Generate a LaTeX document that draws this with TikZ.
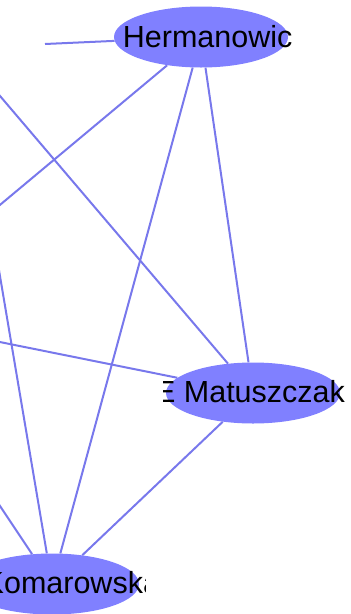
\documentclass[tikz,border=0pt]{standalone}
\usepackage{fontspec}
\setmainfont{Liberation Sans}
\usetikzlibrary{shapes.geometric}
\definecolor{nodefill}{HTML}{8080FF}
\definecolor{edgecol}{HTML}{7878EC}
\begin{document}
\begin{tikzpicture}[x=1pt,y=-1pt,
  person/.style={ellipse, fill=nodefill, draw=none, minimum width=174pt, minimum height=61pt, inner sep=0pt},
  edge/.style={draw=edgecol, line width=2pt},
  lbl/.style={inner sep=0pt, anchor=base west, font=\fontsize{30.5}{36}\selectfont, text=black}]
\useasboundingbox (0,0) rectangle (351,614);
\node[person] (herm) at (201,37) {};
\node[person] (matu) at (253,393) {};
\node[person] (koma) at (52,584) {};
\coordinate (w1) at (45,44);
\coordinate (o1) at (-60,255);
\coordinate (o2) at (-40,49);
\coordinate (o3) at (-40,334);
\coordinate (o4) at (-10,217);
\coordinate (o5) at (-20,476);
\path[edge] (w1) -- (herm);
\path[edge] (o1) -- (herm);
\path[edge] (herm) -- (koma);
\path[edge] (herm) -- (matu);
\path[edge] (o2) -- (matu);
\path[edge] (o3) -- (matu);
\path[edge] (o4) -- (koma);
\path[edge] (o5) -- (koma);
\path[edge] (matu) -- (koma);
\node[lbl] (hermt) at (122.7,47) {Hermanowic};
\begin{scope}
\clip (163,350) rectangle (345,440);
\node[lbl] (matut) at (154.9,402.5) {E Matuszczak};
\end{scope}
\begin{scope}
\clip (-30,540) rectangle (145,614);
\node[lbl] (komat) at (-16.5,593) {Komarowska};
\end{scope}
\end{tikzpicture}
\end{document}
